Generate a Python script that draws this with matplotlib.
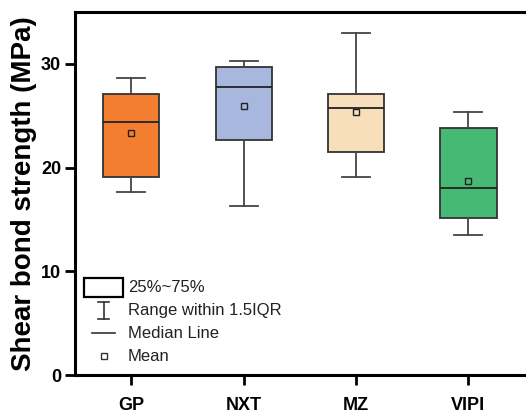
#!/usr/bin/env python3
"""shear_bond_boxplot.py"""

import matplotlib
matplotlib.use("Agg")
import matplotlib.pyplot as plt

# Box statistics (MPa)
groups = ["GP", "NXT", "MZ", "VIPI"]
whis_low = [17.6, 16.3, 19.1, 13.5]
q1 = [19.05, 22.7, 21.5, 15.1]
medians = [24.4, 27.8, 25.7, 18.05]
q3 = [27.1, 29.7, 27.1, 23.85]
whis_high = [28.6, 30.25, 32.95, 25.35]
means = [23.3, 25.9, 25.4, 18.75]
colors = ["#F37E30", "#A8B7DD", "#F6DFBA", "#46B974"]


def main() -> None:
    plt.rcParams["font.family"] = ["Liberation Sans", "DejaVu Sans"]
    fig = plt.figure(figsize=(5.26, 4.15), dpi=100)
    # Right spine sits just outside the canvas, like the cropped original
    ax = fig.add_axes([75 / 526, 40 / 415, 453 / 526, 363 / 415])

    stats = []
    for i, name in enumerate(groups):
        stats.append({
            "label": name,
            "whislo": whis_low[i],
            "q1": q1[i],
            "med": medians[i],
            "q3": q3[i],
            "whishi": whis_high[i],
            "mean": means[i],
            "fliers": [],
        })

    edge = "#333333"
    bp = ax.bxp(
        stats,
        positions=range(1, len(groups) + 1),
        widths=0.5,
        capwidths=0.25,
        showmeans=True,
        patch_artist=True,
        boxprops=dict(edgecolor=edge, linewidth=1.3),
        whiskerprops=dict(color="#444444", linewidth=1.3),
        capprops=dict(color="#444444", linewidth=1.3),
        medianprops=dict(color="#222222", linewidth=1.3),
        meanprops=dict(marker="s", markersize=4.5, markerfacecolor="none",
                       markeredgecolor="#222222", markeredgewidth=1.0),
    )
    for patch, c in zip(bp["boxes"], colors):
        patch.set_facecolor(c)

    ax.set_xlim(0.5, 0.5 + 453 / 112.4)
    ax.set_ylim(0, 35)
    ax.set_yticks([0, 10, 20, 30])
    ax.set_xticks(range(1, len(groups) + 1))
    ax.set_xticklabels(groups)
    ax.tick_params(axis="both", direction="out", length=7, width=2,
                   labelsize=13)
    ax.tick_params(axis="x", pad=9)
    ax.tick_params(axis="y", pad=3)
    for lab in ax.get_xticklabels() + ax.get_yticklabels():
        lab.set_fontweight("bold")
    for sp in ax.spines.values():
        sp.set_linewidth(2.2)

    ax.set_ylabel("Shear bond strength (MPa)", fontsize=20,
                  fontweight="bold", labelpad=3)

    # Hand-drawn key in the lower left, in axes fractions
    def fx(px):
        return (px - 75) / 453

    def fy(py):
        return (375 - py) / 363

    tr = ax.transAxes
    ax.add_patch(plt.Rectangle((fx(84), fy(296.7)), fx(122.7) - fx(84),
                               fy(277.7) - fy(296.7), transform=tr,
                               facecolor="white", edgecolor="black",
                               linewidth=1.6))
    ax.plot([fx(103.7)] * 2, [fy(302), fy(319)], color="#333333", lw=1.2,
            transform=tr)
    for y in (302, 319):
        ax.plot([fx(97.7), fx(109.3)], [fy(y)] * 2, color="#333333", lw=1.2,
                transform=tr)
    ax.plot([fx(91.7), fx(115)], [fy(333)] * 2, color="#333333", lw=1.2,
            transform=tr)
    ax.plot([fx(103.7)], [fy(356)], marker="s", markersize=4,
            markerfacecolor="none", markeredgecolor="#333333",
            markeredgewidth=1.0, transform=tr)
    key_text = ["25%~75%", "Range within 1.5IQR", "Median Line", "Mean"]
    for text, y in zip(key_text, (288, 310, 333, 356)):
        ax.text(fx(128), fy(y), text, transform=tr, fontsize=12,
                va="center", ha="left", color="#222222")

    fig.savefig("out.png", dpi=100)


if __name__ == "__main__":
    main()
